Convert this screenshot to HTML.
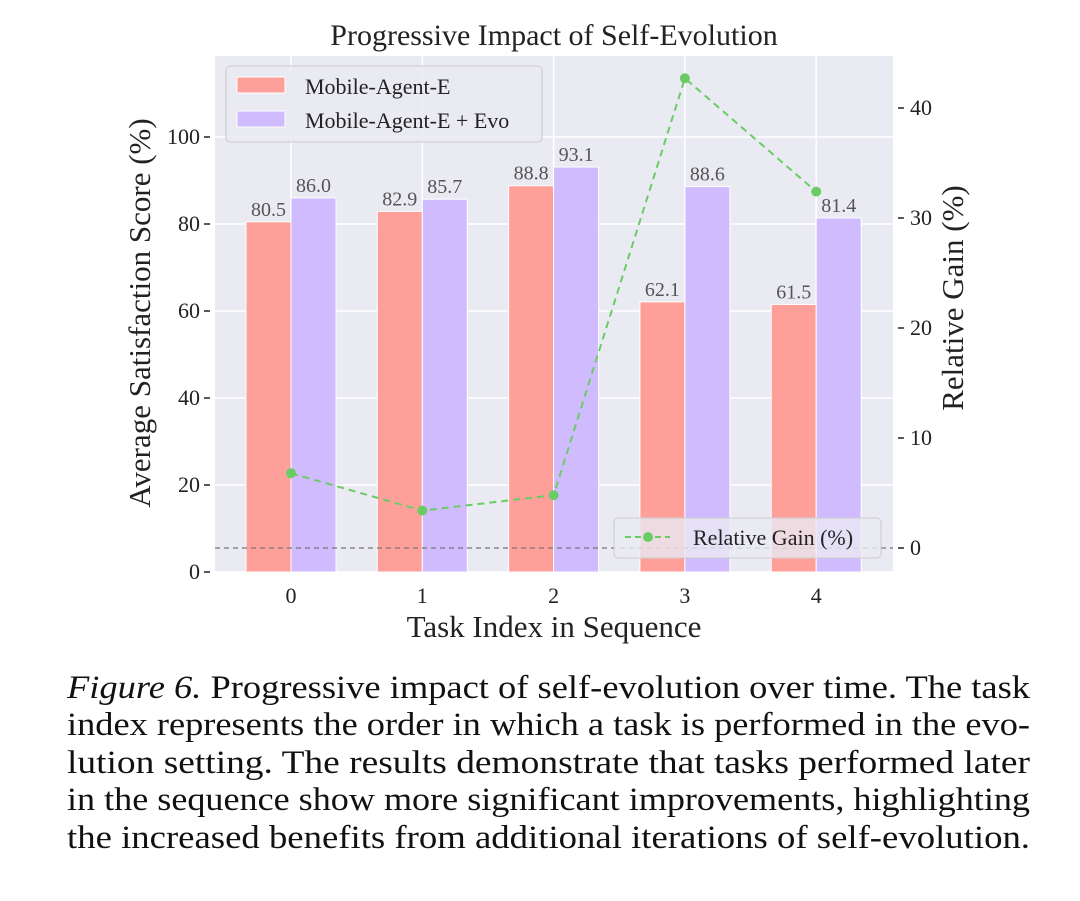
<!DOCTYPE html>
<html><head><meta charset="utf-8"><style>
body{margin:0;background:#fff;}
svg{display:block;font-family:"Liberation Serif",serif;}
</style></head><body>
<svg width="1080" height="901" viewBox="0 0 1080 901">
<text x="554" y="45" font-size="30" text-anchor="middle" fill="#222">Progressive Impact of Self-Evolution</text>
<rect x="215" y="56" width="678" height="516" fill="#eaeaf2"/>
<g id="grid"></g>
<g id="bars"></g>
<g id="line"></g>
<g id="axes"></g>
<text transform="translate(150,313) rotate(-90)" font-size="31" text-anchor="middle" fill="#222">Average Satisfaction Score (%)</text>
<text transform="translate(963,298) rotate(-90)" font-size="31" text-anchor="middle" fill="#222">Relative Gain (%)</text>
<text x="554" y="637" font-size="31" text-anchor="middle" fill="#222">Task Index in Sequence</text>
<g>
<rect x="226" y="66" width="316" height="76" rx="4" fill="#eaeaf2" fill-opacity="0.85" stroke="#ccc"/>
<rect x="237" y="77" width="48" height="16" fill="#ff9f9a" stroke="#fff"/>
<text x="305" y="94" font-size="22" fill="#222">Mobile-Agent-E</text>
<rect x="237" y="111" width="48" height="16" fill="#d0bbff" stroke="#fff"/>
<text x="305" y="128" font-size="22" fill="#222">Mobile-Agent-E + Evo</text>
</g>
<g>
<rect x="614" y="518" width="267" height="40" rx="4" fill="#eaeaf2" fill-opacity="0.8" stroke="#ccc"/>
<line x1="625" y1="537" x2="670" y2="537" stroke="#6acc64" stroke-width="2" stroke-dasharray="6,4"/>
<circle cx="648" cy="537" r="5" fill="#6acc64"/>
<text x="693" y="545" font-size="22" fill="#222">Relative Gain (%)</text>
</g>
<g font-size="33" fill="#111">
<text x="67" y="698" textLength="963" lengthAdjust="spacingAndGlyphs"><tspan font-style="italic">Figure 6.</tspan> Progressive impact of self-evolution over time. The task</text>
<text x="67" y="735" textLength="963" lengthAdjust="spacingAndGlyphs">index represents the order in which a task is performed in the evo-</text>
<text x="67" y="773" textLength="963" lengthAdjust="spacingAndGlyphs">lution setting. The results demonstrate that tasks performed later</text>
<text x="67" y="810" textLength="963" lengthAdjust="spacingAndGlyphs">in the sequence show more significant improvements, highlighting</text>
<text x="67" y="848" textLength="963" lengthAdjust="spacingAndGlyphs">the increased benefits from additional iterations of self-evolution.</text>
</g>
</svg>
<script>
const categories=["0","1","2","3","4"];
const baseScores=[80.5,82.9,88.8,62.1,61.5];
const evoScores=[86.0,85.7,93.1,88.6,81.4];
const gains=[6.8,3.4,4.8,42.7,32.4];
const leftTicks=[0,20,40,60,80,100];
const rightTicks=[0,10,20,30,40];
const NS="http://www.w3.org/2000/svg";
const x=i=>291+i*131.3;
const yL=v=>572-v*4.35;
const yR=v=>548-v*11;
const bw=45;
function mk(tag,attrs,parent,txt){const e=document.createElementNS(NS,tag);for(const k in attrs)e.setAttribute(k,attrs[k]);if(txt!==undefined)e.textContent=txt;document.getElementById(parent).appendChild(e);return e;}
leftTicks.forEach(t=>{
 const g=mk('line',{x1:215,x2:893,y1:yL(t),y2:yL(t),stroke:'#fff','stroke-width':1.5},'grid');
 
 
 const tk=mk('line',{x1:204,x2:210,y1:yL(t),y2:yL(t),stroke:'#222','stroke-width':1.5},'axes');
 
 
 const l=mk('text',{x:200,y:yL(t)+7,'font-size':22,'text-anchor':'end',fill:'#222'},'axes',String(t));
 
 
});
rightTicks.forEach(t=>{
 const tk=mk('line',{x1:898,x2:904,y1:yR(t),y2:yR(t),stroke:'#222','stroke-width':1.5},'axes');
 
 
 const l=mk('text',{x:910,y:yR(t)+7,'font-size':22,fill:'#222'},'axes',String(t));
 
 
});
categories.forEach((c,i)=>{
 const g=mk('line',{x1:x(i),x2:x(i),y1:56,y2:572,stroke:'#fff','stroke-width':1.5},'grid');
 
 
 const l=mk('text',{x:x(i),y:603,'font-size':22,'text-anchor':'middle',fill:'#222'},'axes',c);
 
 
 const b1=mk('rect',{x:x(i)-bw,y:yL(baseScores[i]),width:bw,height:572-yL(baseScores[i]),fill:'#ff9f9a',stroke:'#fff','stroke-width':1},'bars');
 
 
 const b2=mk('rect',{x:x(i),y:yL(evoScores[i]),width:bw,height:572-yL(evoScores[i]),fill:'#d0bbff',stroke:'#fff','stroke-width':1},'bars');
 
 
 const t1=mk('text',{x:x(i)-bw/2,y:yL(baseScores[i])-6,'font-size':20,'text-anchor':'middle',fill:'#555'},'bars',baseScores[i].toFixed(1));
 
 
 const t2=mk('text',{x:x(i)+bw/2,y:yL(evoScores[i])-6,'font-size':20,'text-anchor':'middle',fill:'#555'},'bars',evoScores[i].toFixed(1));
 
 
});
const zl=mk('line',{x1:215,x2:893,y1:yR(0),y2:yR(0),stroke:'#777','stroke-width':1.2,'stroke-dasharray':'5,4'},'line');


const pl=mk('polyline',{points:gains.map((g,i)=>x(i)+','+yR(g)).join(' '),fill:'none',stroke:'#6acc64','stroke-width':2,'stroke-dasharray':'7,5'},'line');


gains.forEach((g,i)=>{
 const p=mk('circle',{cx:x(i),cy:yR(g),r:5,fill:'#6acc64'},'line');
 
 
});
</script>
</body></html>
